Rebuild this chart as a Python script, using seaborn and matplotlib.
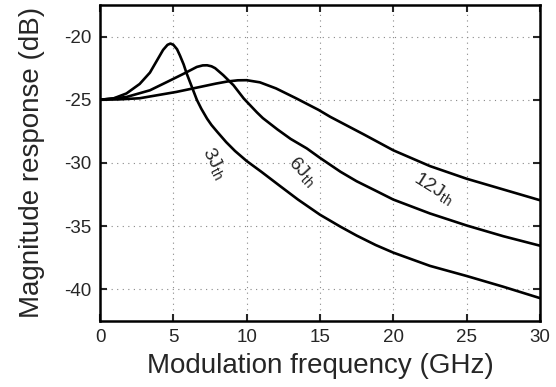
import numpy as np
import pandas as pd
import matplotlib
matplotlib.use("Agg")
import matplotlib.pyplot as plt
import seaborn as sns

# ---- data ----
f_3j = [0, 0.9, 1.8, 2.7, 3.4, 3.85, 4.3, 4.6, 4.8, 5.0, 5.25, 5.45, 5.7, 5.9, 6.15,
        6.6, 6.9, 7.3, 7.6, 8.0, 8.6, 9.2, 10.0, 11.0, 12.3, 13.5, 15, 16.4, 17.5,
        18.8, 20, 22.5, 25, 27.5, 30]
m_3j = [-25.0, -24.9, -24.5, -23.75, -22.85, -21.95, -21.05, -20.65, -20.55, -20.65,
        -21.0, -21.5, -22.2, -22.9, -23.65, -25.0, -25.7, -26.5, -27.0, -27.55, -28.35,
        -29.05, -29.85, -30.7, -31.85, -32.9, -34.1, -35.05, -35.75, -36.5, -37.1, -38.15,
        -38.95, -39.8, -40.7]

f_6j = [0, 1.8, 3.4, 4.55, 5.7, 6.6, 7.0, 7.3, 7.6, 7.85, 8.4, 9.1, 9.8, 10.7, 11.1,
        12.1, 13.0, 14.1, 15, 16.4, 17.5, 18.8, 20, 22.5, 25, 27.5, 30]
m_6j = [-25.0, -24.78, -24.25, -23.6, -22.94, -22.4, -22.28, -22.27, -22.35, -22.5,
        -23.05, -23.85, -24.9, -26.0, -26.45, -27.35, -28.1, -28.85, -29.6, -30.7,
        -31.45, -32.2, -32.9, -34.0, -34.95, -35.8, -36.55]

f_12j = [0, 1.3, 2.7, 4.0, 5.2, 6.8, 7.9, 8.7, 9.4, 10.0, 10.9, 12.0, 13.4, 14.9,
         15.7, 18.0, 20, 22.5, 25, 27.5, 30]
m_12j = [-25.0, -24.97, -24.88, -24.62, -24.38, -23.99, -23.72, -23.55, -23.46, -23.45,
         -23.62, -24.1, -24.9, -25.8, -26.35, -27.75, -29.0, -30.25, -31.25, -32.1,
         -32.95]

series_names = ["3J", "6J", "12J"]
curve_labels = ["3J$_{\\mathrm{th}}$", "6J$_{\\mathrm{th}}$", "12J$_{\\mathrm{th}}$"]
label_pos_x = [7.8, 13.8, 22.8]
label_pos_y = [-30.0, -30.7, -32.0]
label_rot = [-62, -47, -32]

x_ticks = [0, 5, 10, 15, 20, 25, 30]
y_ticks = [-40, -35, -30, -25, -20]

df = pd.concat([
    pd.DataFrame({"freq": f_3j, "mag": m_3j, "series": "3J"}),
    pd.DataFrame({"freq": f_6j, "mag": m_6j, "series": "6J"}),
    pd.DataFrame({"freq": f_12j, "mag": m_12j, "series": "12J"}),
], ignore_index=True)

sns.set_style("ticks")
plt.rcParams["font.family"] = ["Liberation Sans", "DejaVu Sans"]
plt.rcParams["mathtext.fontset"] = "custom"
plt.rcParams["mathtext.rm"] = "Liberation Sans"
plt.rcParams["mathtext.it"] = "Liberation Sans:italic"

fig = plt.figure(figsize=(5.56, 3.87), dpi=100)
ax = fig.add_axes([0.18, 0.171, 0.791, 0.816])

sns.lineplot(data=df, x="freq", y="mag", hue="series", hue_order=series_names,
             palette=["black"] * 3, linewidth=1.9, legend=False, ax=ax,
             sort=True, estimator=None)
for ln in ax.lines:
    ln.set_solid_joinstyle("round")
    ln.set_solid_capstyle("round")

ax.set_xlim(0, 30)
ax.set_ylim(-42.5, -17.5)
ax.set_xticks(x_ticks)
ax.set_yticks(y_ticks)
ax.set_xticklabels([str(t) for t in x_ticks])
ax.set_yticklabels([str(t) for t in y_ticks])
ax.grid(True, linestyle=(0, (1, 4)), color="#888888", linewidth=0.8)
ax.tick_params(direction="in", length=5, width=1.5, top=True, right=True,
               labelsize=13.5, pad=6)
for s in ax.spines.values():
    s.set_linewidth(1.8)
    s.set_color("black")

ax.set_xlabel("Modulation frequency (GHz)", fontsize=20, labelpad=5)
ax.set_ylabel("Magnitude response (dB)", fontsize=20, labelpad=14)

for lab, x, y, r in zip(curve_labels, label_pos_x, label_pos_y, label_rot):
    ax.text(x, y, lab, rotation=r, fontsize=14, ha="center", va="center",
            rotation_mode="anchor")

fig.savefig("out.png", dpi=100)
